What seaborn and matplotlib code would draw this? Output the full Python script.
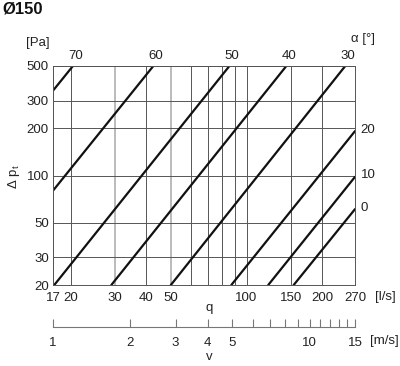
import matplotlib
matplotlib.use("Agg")
import matplotlib.pyplot as plt
import seaborn as sns
import pandas as pd
from matplotlib.ticker import NullLocator

sns.set_theme(style="white")
plt.rcParams['font.family'] = ['Liberation Sans', 'DejaVu Sans']

# damper angle lines, endpoints (q in l/s, dp in Pa)
alpha = [70, 60, 50, 40, 30, 20, 10, 0]
q_start = [17, 17, 17.2, 29, 50, 87, 122, 154]
dp_start = [348, 80, 20, 20, 20, 20, 20, 20]
q_end = [20.4, 42.6, 85.5, 144, 247, 270, 270, 270]
dp_end = [500, 500, 500, 500, 500, 192, 98, 61]

q_grid = [17, 20, 30, 40, 50, 60, 70, 80, 90, 100, 150, 200, 270]
q_labels = ["17", "20", "30", "40", "50", "", "", "", "", "100", "150", "200", "270"]
dp_ticks = [20, 30, 50, 100, 200, 300, 500]
v_ticks = [1, 2, 3, 4, 5, 6, 7, 8, 9, 10, 11, 12, 13, 14, 15]
v_labels = ["1", "2", "3", "4", "5", "", "", "", "", "10", "", "", "", "", "15"]

rows = []
for a, qs, ps, qe, pe in zip(alpha, q_start, dp_start, q_end, dp_end):
    rows.append({"alpha": a, "q": qs, "dp": ps})
    rows.append({"alpha": a, "q": qe, "dp": pe})
df = pd.DataFrame(rows)

FS = 9.5
W, H = 400, 366
fig = plt.figure(figsize=(W / 100, H / 100), dpi=100)
fig.patch.set_facecolor("white")
ax = fig.add_axes([53 / W, 1 - 285 / H, 302 / W, 219 / H])
ax.set_xscale("log")
ax.set_yscale("log")
sns.lineplot(data=df, x="q", y="dp", units="alpha", estimator=None,
             color="#111111", lw=1.6, ax=ax, legend=False)
ax.set_xlim(17, 270)
ax.set_ylim(20, 500)
ax.xaxis.set_minor_locator(NullLocator())
ax.yaxis.set_minor_locator(NullLocator())
ax.set_xticks(q_grid)
ax.set_xticklabels(q_labels)
ax.set_yticks(dp_ticks)
ax.set_yticklabels([str(t) for t in dp_ticks])
ax.tick_params(axis="both", length=0, labelsize=FS, colors="#222222")
ax.tick_params(axis="x", pad=5)
ax.tick_params(axis="y", pad=3)
ax.grid(True, color="#555555", lw=0.7)
for val, gl in zip(q_grid, ax.get_xgridlines()):
    if val in (30, 50):
        gl.set_color("#bbbbbb")
        gl.set_linewidth(1.4)
for s in ax.spines.values():
    s.set_color("#555555")
    s.set_linewidth(0.7)
ax.set_xlabel("")
ax.set_ylabel("")

# angle labels
for a, qe, pe in zip(alpha, q_end, dp_end):
    if pe >= 500:
        ax.annotate(str(a), (qe, pe), xytext=(2, 3), textcoords="offset points",
                    ha="center", va="bottom", fontsize=FS, color="#222222",
                    annotation_clip=False)
    else:
        ax.annotate(str(a), (qe, pe), xytext=(4, 1), textcoords="offset points",
                    ha="left", va="center", fontsize=FS, color="#222222",
                    annotation_clip=False)

def px(x, y):
    return x / W, 1 - y / H

fig.text(*px(2, 9), "Ø150", fontsize=12, fontweight="bold", ha="left", va="center", color="#111111")
fig.text(*px(38, 43), "[Pa]", fontsize=FS, ha="center", va="center", color="#222222")
fig.text(*px(363, 39), "α [°]", fontsize=FS, ha="center", va="center", color="#222222")
fig.text(*px(14, 177), r"Δ p$_\mathregular{t}$", fontsize=FS, rotation=90, ha="center", va="center", color="#222222")
fig.text(*px(385, 297), "[l/s]", fontsize=FS, ha="center", va="center", color="#222222")
fig.text(*px(209, 308), "q", fontsize=FS, ha="center", va="center", color="#222222")

# velocity scale
ax2 = fig.add_axes([53 / W, 1 - 327 / H, 302 / W, 10 / H])
ax2.set_xscale("log")
ax2.set_xlim(1, 15)
ax2.set_facecolor("none")
ax2.xaxis.set_minor_locator(NullLocator())
ax2.set_xticks(v_ticks)
ax2.set_xticklabels(v_labels)
ax2.set_yticks([])
for k in ("top", "left", "right"):
    ax2.spines[k].set_visible(False)
ax2.spines["bottom"].set_color("#777777")
ax2.spines["bottom"].set_linewidth(0.8)
ax2.tick_params(axis="x", bottom=True, direction="in", length=6, width=0.8, color="#777777",
                labelsize=FS, labelcolor="#222222", pad=7)
fig.text(*px(384, 341), "[m/s]", fontsize=FS, ha="center", va="center", color="#222222")
fig.text(*px(209, 357), "v", fontsize=FS, ha="center", va="center", color="#222222")

fig.savefig("out.png", dpi=100)
